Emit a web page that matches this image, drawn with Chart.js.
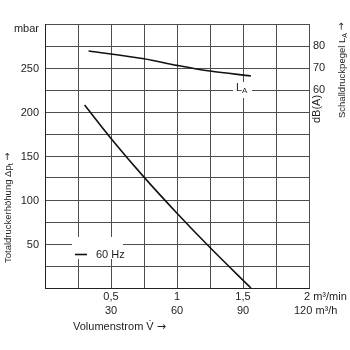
<!DOCTYPE html>
<html><head><meta charset="utf-8">
<script src="https://cdn.jsdelivr.net/npm/chart.js@4/dist/chart.umd.min.js"></script>
<style>html,body{margin:0;padding:0;background:#fff}</style>
</head><body>
<canvas id="c" width="350" height="350"></canvas>
<script>
// ---- data ----
const flowPressure = [0.30, 0.50, 0.75, 1.00, 1.25, 1.56];   // m3/min
const pressure     = [208, 170, 126, 85, 46, 0];              // mbar
const flowLevel    = [0.33, 0.75, 1.00, 1.25, 1.56];          // m3/min
const levelLA      = [77.7, 74.2, 71.2, 68.6, 66.4];          // dB(A)
const xTickMin     = [0.5, 1, 1.5, 2];
const xTickMinLbl  = ['0,5', '1', '1,5', '2'];
const xTickHLbl    = ['30', '60', '90', '120'];
const yTicks       = [50, 100, 150, 200, 250];
const dbTicks      = [60, 70, 80];

const FONT = '"Liberation Sans", Arial, Helvetica, sans-serif';
const ARROWFONT = '"DejaVu Sans", sans-serif';
const TXT = '#1e1e1e';

function drawPieces(ctx, pieces, x, y, size) {
  // pieces: [text, kind]  kind: 0 normal, 1 subscript, 2 arrow
  let cx = x;
  for (const [t, kind] of pieces) {
    if (kind === 1) ctx.font = Math.round(size * 0.75) + 'px ' + FONT;
    else if (kind === 2) ctx.font = size + 'px ' + ARROWFONT;
    else ctx.font = size + 'px ' + FONT;
    ctx.fillText(t, cx, y + (kind === 1 ? 3 : 0));
    cx += ctx.measureText(t).width;
  }
}

const textPlugin = {
  id: 'texts',
  beforeDatasetsDraw(chart) {
    const ctx = chart.ctx;
    ctx.save();
    ctx.fillStyle = '#fff';
    // white boxes behind the legend and L_A label
    ctx.fillRect(72, 237, 51, 22);
    ctx.fillRect(233, 82, 19, 16);
    ctx.restore();
  },
  afterDraw(chart) {
    const ctx = chart.ctx;
    const xs = chart.scales.x, ys = chart.scales.y, y2 = chart.scales.y2;
    ctx.save();
    ctx.fillStyle = TXT;
    ctx.font = '11px ' + FONT;
    ctx.textBaseline = 'middle';
    // left tick labels
    ctx.textAlign = 'right';
    yTicks.forEach(v => ctx.fillText(String(v), 39, ys.getPixelForValue(v) + 1));
    ctx.fillText('mbar', 39, ys.getPixelForValue(300) + 5);
    // right tick labels
    ctx.textAlign = 'left';
    dbTicks.forEach(v => ctx.fillText(String(v), 313, y2.getPixelForValue(v)));
    // dB(A) rotated
    ctx.save();
    ctx.translate(317, 109);
    ctx.rotate(-Math.PI / 2);
    ctx.textAlign = 'center';
    ctx.fillText('dB(A)', 0, 0);
    ctx.restore();
    // x tick labels
    ctx.textAlign = 'center';
    xTickMin.forEach((v, i) => {
      const px = xs.getPixelForValue(v);
      if (i === xTickMin.length - 1) {
        ctx.textAlign = 'left';
        ctx.fillText(xTickMinLbl[i] + ' m³/min', px - 5, 297);
        ctx.fillText(xTickHLbl[i] + ' m³/h', px - 15, 311);
        ctx.textAlign = 'center';
      } else {
        ctx.fillText(xTickMinLbl[i], px, 297);
        ctx.fillText(xTickHLbl[i], px, 311);
      }
    });
    // x title
    ctx.textAlign = 'left';
    drawPieces(ctx, [['Volumenstrom V\u0307 ', 0], ['\u2192', 2]], 73, 327, 11);
    // left title (rotated)
    ctx.save();
    ctx.translate(8, 263);
    ctx.rotate(-Math.PI / 2);
    drawPieces(ctx, [['Totaldruckerhöhung \u0394p', 0], ['t', 1], [' ', 0], ['\u2192', 2]], 0, 0, 9.5);
    ctx.restore();
    // right title (rotated)
    ctx.save();
    ctx.translate(342, 118);
    ctx.rotate(-Math.PI / 2);
    drawPieces(ctx, [['Schalldruckpegel L', 0], ['A', 1], [' ', 0], ['\u2192', 2]], 0, 0, 9.5);
    ctx.restore();
    // L_A label
    drawPieces(ctx, [['L', 0], ['A', 1]], 236, 88, 11);
    // legend
    ctx.strokeStyle = '#111';
    ctx.lineWidth = 1.6;
    ctx.beginPath();
    ctx.moveTo(75, 254.5); ctx.lineTo(87, 254.5);
    ctx.stroke();
    ctx.font = '11px ' + FONT;
    ctx.fillText('60 Hz', 96, 254.5);
    ctx.restore();
  }
};

const hideFitX = s => { s.height = 0; };
const hideFitY = s => { s.width = 0; };

new Chart(document.getElementById('c'), {
  type: 'line',
  data: {
    datasets: [
      {
        data: flowPressure.map((x, i) => ({ x, y: pressure[i] })),
        borderColor: '#111', borderWidth: 1.6, pointRadius: 0,
        cubicInterpolationMode: 'monotone', yAxisID: 'y'
      },
      {
        data: flowLevel.map((x, i) => ({ x, y: levelLA[i] })),
        borderColor: '#111', borderWidth: 1.6, pointRadius: 0,
        cubicInterpolationMode: 'monotone', yAxisID: 'y2'
      }
    ]
  },
  options: {
    responsive: false,
    animation: false,
    devicePixelRatio: 1,
    layout: { padding: { left: 45, top: 24, right: 41, bottom: 62 } },
    plugins: { legend: { display: false }, tooltip: { enabled: false } },
    scales: {
      x: {
        type: 'linear', min: 0, max: 2,
        ticks: { display: false, stepSize: 0.25 },
        grid: { color: '#4d4d4d', lineWidth: 1, drawTicks: false },
        border: { display: true, color: '#222', width: 1 },
        afterFit: hideFitX
      },
      y: {
        type: 'linear', min: 0, max: 300,
        ticks: { display: false, stepSize: 25 },
        grid: { color: '#4d4d4d', lineWidth: 1, drawTicks: false },
        border: { display: true, color: '#222', width: 1 },
        afterFit: hideFitY
      },
      y2: {
        type: 'linear', position: 'right', min: -30, max: 90,
        display: false
      }
    }
  },
  plugins: [textPlugin]
});
</script>
</body></html>
